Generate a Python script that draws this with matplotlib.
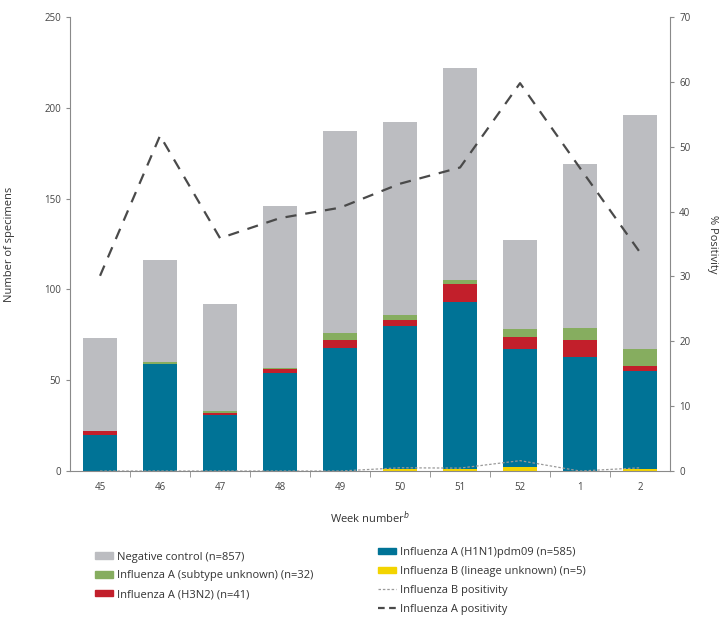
import matplotlib
matplotlib.use('Agg')
import numpy as np
import matplotlib.pyplot as plt
from matplotlib.patches import Patch
from matplotlib.lines import Line2D

plt.rcParams['font.family'] = ['Open Sans', 'DejaVu Sans']

weeks = ['45', '46', '47', '48', '49', '50', '51', '52', '1', '2']
# stacked counts, bottom to top
flu_b       = [0, 0, 0, 0, 0, 1, 1, 2, 0, 1]
h1n1        = [20, 59, 31, 54, 68, 79, 92, 65, 63, 54]
h3n2        = [2, 0, 1, 2, 4, 3, 10, 7, 9, 3]
subtype_unk = [0, 1, 1, 1, 4, 3, 2, 4, 7, 9]
negative    = [51, 56, 59, 89, 111, 106, 117, 49, 90, 129]
# % positivity (right axis)
pos_a = [30.1, 51.7, 35.9, 39.0, 40.6, 44.3, 46.8, 59.8, 46.7, 33.7]
pos_b = [0, 0, 0, 0, 0, 0.5, 0.45, 1.6, 0, 0.5]

C_NEG = '#bcbdc1'
C_UNK = '#86ad5f'
C_H3 = '#c21f2b'
C_H1 = '#007396'
C_B = '#f3d400'
C_AX = '#8a8a8a'

fig = plt.figure(figsize=(7.25, 6.21), dpi=100)
ax = fig.add_axes([0.0966, 0.2415, 0.8276, 0.7311])
x = np.arange(len(weeks))
w = 0.58

bottom = np.zeros(len(weeks))
for vals, col in [(flu_b, C_B), (h1n1, C_H1), (h3n2, C_H3),
                  (subtype_unk, C_UNK), (negative, C_NEG)]:
    ax.bar(x, vals, w, bottom=bottom, color=col, linewidth=0)
    bottom += np.array(vals)

ax.set_xlim(-0.5, len(weeks) - 0.5)
ax.set_ylim(0, 250)
ax.set_yticks(range(0, 251, 50))
ax.set_xticks(x)
ax.set_xticklabels(weeks)
ax.set_xticks(np.arange(0.5, len(weeks) - 0.5, 1), minor=True)
ax.tick_params(axis='x', which='major', length=0, pad=8, labelsize=7, colors='#444444')
ax.tick_params(axis='x', which='minor', length=4, color=C_AX, direction='out')
ax.tick_params(axis='y', length=3, color=C_AX, labelsize=7, labelcolor='#444444')
for s in ['top', 'right']:
    ax.spines[s].set_visible(False)
for s in ['left', 'bottom']:
    ax.spines[s].set_color(C_AX)
ax.set_ylabel('Number of specimens', fontsize=8, color='#333333')
ax.yaxis.set_label_coords(-0.092, 0.5)
ax.set_xlabel('Week number$^{b}$', fontsize=8, color='#333333', labelpad=12)

ax2 = ax.twinx()
ax2.set_ylim(0, 70)
ax2.set_yticks(range(0, 71, 10))
ax2.plot(x, pos_b, color='#9a9a9a', linewidth=0.9, dashes=(2, 1.5))
ax2.plot(x, pos_a, color='#4a4a4a', linewidth=1.6, dashes=(5, 4))
for s in ['top', 'left', 'bottom']:
    ax2.spines[s].set_visible(False)
ax2.spines['right'].set_color(C_AX)
ax2.tick_params(axis='y', length=3, color=C_AX, labelsize=7, labelcolor='#444444')
ax2.set_ylabel('% Positivity', fontsize=8, color='#333333', rotation=270, va='center')
ax2.yaxis.set_label_coords(1.07, 0.5)

leg_kw = dict(frameon=False, fontsize=8, handlelength=1.6, handleheight=0.5,
              labelspacing=0.7, handletextpad=0.4, borderaxespad=0)
left_handles = [Patch(color=C_NEG), Patch(color=C_UNK), Patch(color=C_H3)]
left_labels = ['Negative control (n=857)', 'Influenza A (subtype unknown) (n=32)',
               'Influenza A (H3N2) (n=41)']
l1 = fig.legend(left_handles, left_labels, loc='upper left',
                bbox_to_anchor=(0.125, 0.119), **leg_kw)
for t in l1.get_texts():
    t.set_color('#333333')

right_handles = [Patch(color=C_H1), Patch(color=C_B),
                 Line2D([], [], color='#9a9a9a', linewidth=0.9, dashes=(2, 1.5)),
                 Line2D([], [], color='#4a4a4a', linewidth=1.6, dashes=(3, 2))]
right_labels = ['Influenza A (H1N1)pdm09 (n=585)', 'Influenza B (lineage unknown) (n=5)',
                'Influenza B positivity', 'Influenza A positivity']
l2 = fig.legend(right_handles, right_labels, loc='upper left',
                bbox_to_anchor=(0.515, 0.126), **leg_kw)
for t in l2.get_texts():
    t.set_color('#333333')

fig.savefig('out.png', dpi=100, facecolor='white')
